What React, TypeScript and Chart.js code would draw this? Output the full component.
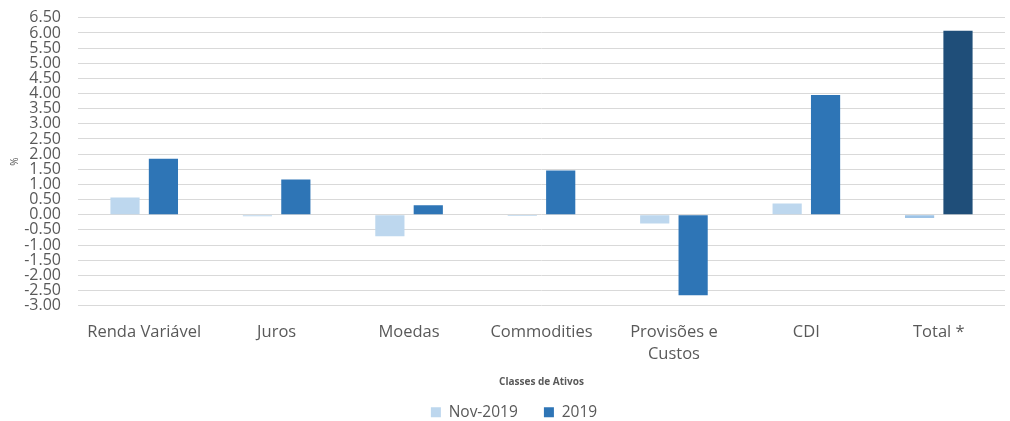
import React, { useEffect, useRef } from "react";
import { Chart, registerables } from "chart.js";

Chart.register(...registerables);

const categories: (string | string[])[] = [
  "Renda Variável",
  "Juros",
  "Moedas",
  "Commodities",
  ["Provisões e", "Custos"],
  "CDI",
  "Total *",
];
const nov2019 = [0.57, -0.05, -0.71, -0.04, -0.29, 0.37, -0.11];
const y2019 = [1.85, 1.16, 0.31, 1.46, -2.66, 3.95, 6.07];
const novColors = ["#BDD7EE", "#BDD7EE", "#BDD7EE", "#BDD7EE", "#BDD7EE", "#BDD7EE", "#9DC3E6"];
const y2019Colors = ["#2E75B6", "#2E75B6", "#2E75B6", "#2E75B6", "#2E75B6", "#2E75B6", "#1F4E79"];
const seriesNames = ["Nov-2019", "2019"];

const FONT = "'Open Sans', sans-serif";

const legendShift = {
  id: "legendShift",
  afterLayout(chart: any) {
    const lg = chart.legend;
    if (lg) {
      lg.left += 7;
      lg.right += 7;
    }
  },
};

export default function App() {
  const ref = useRef<HTMLCanvasElement | null>(null);
  useEffect(() => {
    document.body.style.margin = "0";
    const ctx = ref.current!.getContext("2d")!;
    const defaultLabels = Chart.defaults.plugins.legend.labels.generateLabels;
    const chart = new Chart(ctx, {
      type: "bar",
      data: {
        labels: categories,
        datasets: [
          {
            label: seriesNames[0],
            data: nov2019,
            backgroundColor: novColors,
            categoryPercentage: 0.58,
            barPercentage: 0.76,
          },
          {
            label: seriesNames[1],
            data: y2019,
            backgroundColor: y2019Colors,
            categoryPercentage: 0.58,
            barPercentage: 0.76,
          },
        ],
      },
      plugins: [legendShift],
      options: {
        animation: false,
        responsive: false,
        maintainAspectRatio: false,
        layout: { padding: { top: 0, right: 5, left: 9, bottom: -9 } },
        plugins: {
          tooltip: { enabled: false },
          legend: {
            position: "bottom",
            labels: {
              font: { family: FONT, size: 15.5, lineHeight: 1 },
              color: "#595959",
              boxWidth: 10,
              boxHeight: 10,
              padding: 10,
              generateLabels: (c: any) => {
                const items = defaultLabels(c);
                items.forEach((it: any, i: number) => {
                  if (i < items.length - 1) it.text = it.text + "    ";
                });
                return items;
              },
            },
          },
        },
        scales: {
          x: {
            grid: { display: false },
            border: { display: false },
            ticks: {
              font: { family: FONT, size: 16.5, lineHeight: 1.33 },
              color: "#595959",
              maxRotation: 0,
              autoSkip: false,
              padding: 8,
            },
            title: {
              display: true,
              text: "Classes de Ativos",
              font: { family: FONT, size: 10, weight: "bold" },
              color: "#595959",
              padding: { top: 3, bottom: 6 },
            },
          },
          y: {
            min: -3,
            max: 6.5,
            afterFit: (scale: any) => {
              scale.width = 69;
            },
            grid: { color: "#D9D9D9", lineWidth: 1, drawTicks: false },
            border: { display: false },
            ticks: {
              stepSize: 0.5,
              autoSkip: false,
              font: { family: FONT, size: 16, lineHeight: 0.1 },
              color: "#595959",
              padding: 17,
              callback: (v: any) => Number(v).toFixed(2),
            },
            title: {
              display: true,
              text: "%",
              font: { family: FONT, size: 10 },
              color: "#595959",
              padding: { top: 0, bottom: 4 },
            },
          },
        },
      },
    });
    return () => chart.destroy();
  }, []);
  return (
    <div style={{ width: 1010, height: 421 }}>
      <canvas ref={ref} width={1010} height={421} />
    </div>
  );
}
